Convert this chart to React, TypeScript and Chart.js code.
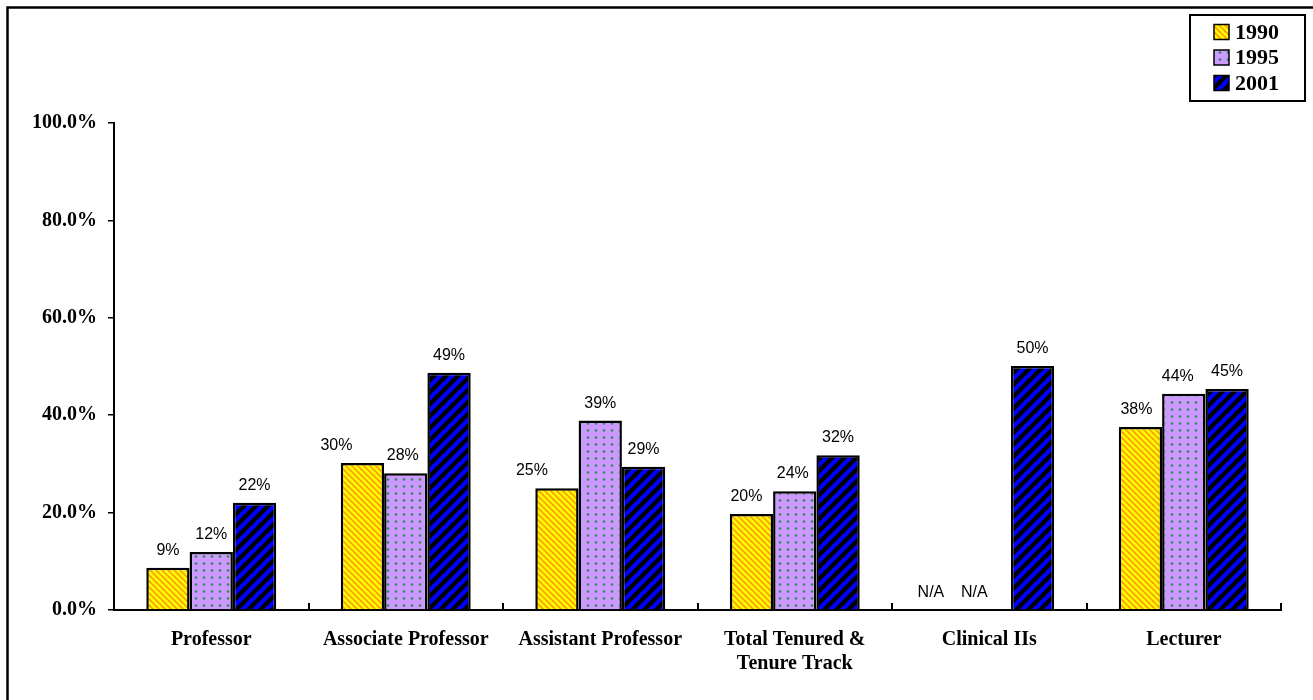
import React, { useEffect, useRef } from "react";
import { Chart, registerables } from "chart.js";

Chart.register(...registerables);

const categories: (string | string[])[] = [
  "Professor",
  "Associate Professor",
  "Assistant Professor",
  ["Total Tenured &", "Tenure Track"],
  "Clinical IIs",
  "Lecturer",
];
const seriesNames = ["1990", "1995", "2001"];
const v1990: (number | null)[] = [8.7, 30.2, 25.0, 19.7, null, 37.6];
const v1995: (number | null)[] = [11.9, 28.1, 38.9, 24.4, null, 44.4];
const v2001: (number | null)[] = [22.0, 48.7, 29.4, 31.8, 50.1, 45.4];
const yTicks = [0, 20, 40, 60, 80, 100];

// hand-placed label nudges (style, px) as in the original
const labelNudge: number[][] = [
  [0, -26, -25, -5, -15, -4],
  [0, -3, 0, -2, -15, -6],
  [0, 0, 0, 0, 0, 0],
];

const SERIF = "'Liberation Serif', 'Times New Roman', serif";
const SANS = "'Liberation Sans', Arial, sans-serif";

function stripes(size: number, base: string, color: string, lw: number, forward: boolean): CanvasPattern {
  const c = document.createElement("canvas");
  c.width = size;
  c.height = size;
  const ctx = c.getContext("2d")!;
  ctx.fillStyle = base;
  ctx.fillRect(0, 0, size, size);
  ctx.strokeStyle = color;
  ctx.lineWidth = lw;
  ctx.lineCap = "square";
  for (const off of [-size, 0, size]) {
    ctx.beginPath();
    if (forward) {
      ctx.moveTo(off, size);
      ctx.lineTo(off + size, 0);
    } else {
      ctx.moveTo(off, 0);
      ctx.lineTo(off + size, size);
    }
    ctx.stroke();
  }
  return ctx.createPattern(c, "repeat")!;
}

function dots(w: number, h: number, base: string, color: string): CanvasPattern {
  const c = document.createElement("canvas");
  c.width = w;
  c.height = h;
  const ctx = c.getContext("2d")!;
  ctx.fillStyle = base;
  ctx.fillRect(0, 0, w, h);
  ctx.fillStyle = color;
  ctx.beginPath();
  ctx.arc(w / 2, h / 2, 1.3, 0, Math.PI * 2);
  ctx.fill();
  return ctx.createPattern(c, "repeat")!;
}

export default function App() {
  const ref = useRef<HTMLCanvasElement | null>(null);

  useEffect(() => {
    if (!ref.current) return;
    const pYellow = stripes(6, "#FFFF00", "#FFA200", 1.8, false);
    const pPurple = dots(8, 7, "#CC99FF", "#2E8B57");
    const pBlue = stripes(12, "#000000", "#0000FF", 4.2, true);
    const fills = [pYellow, pPurple, pBlue];

    const overlay = {
      id: "overlay",
      afterDatasetsDraw(chart: any) {
        const ctx = chart.ctx as CanvasRenderingContext2D;
        const area = chart.chartArea;
        ctx.save();
        ctx.font = `16px ${SANS}`;
        ctx.fillStyle = "#000";
        ctx.textAlign = "center";
        ctx.textBaseline = "alphabetic";
        chart.data.datasets.forEach((ds: any, di: number) => {
          const meta = chart.getDatasetMeta(di);
          meta.data.forEach((el: any, i: number) => {
            const v = ds.data[i];
            const dx = labelNudge[di][i];
            if (v === null || v === undefined) {
              const xs = chart.scales.x;
              const step = xs.getPixelForValue(1) - xs.getPixelForValue(0);
              const bw = (step * 0.668) / 3;
              const cx = xs.getPixelForValue(i) + (di - 1) * bw + dx;
              ctx.fillText("N/A", cx, area.bottom - 13);
            } else {
              ctx.fillText(Math.round(v) + "%", el.x + dx, el.y - 13);
            }
          });
        });
        ctx.restore();
      },
      afterDraw(chart: any) {
        const ctx = chart.ctx as CanvasRenderingContext2D;
        const area = chart.chartArea;
        const xs = chart.scales.x;
        ctx.save();
        // frame
        ctx.strokeStyle = "#000";
        ctx.lineWidth = 2.5;
        ctx.beginPath();
        ctx.moveTo(7.5, 700);
        ctx.lineTo(7.5, 7.5);
        ctx.lineTo(1313, 7.5);
        ctx.stroke();
        // x tick marks (inside)
        const step = xs.getPixelForValue(1) - xs.getPixelForValue(0);
        ctx.lineWidth = 2;
        for (let i = 1; i <= categories.length; i++) {
          const x = Math.round(xs.getPixelForValue(i - 1) + step / 2);
          ctx.beginPath();
          ctx.moveTo(x, area.bottom);
          ctx.lineTo(x, area.bottom - 7);
          ctx.stroke();
        }
        // legend box
        const bx = 1190, by = 15, bw = 115, bh = 86;
        ctx.fillStyle = "#fff";
        ctx.fillRect(bx, by, bw, bh);
        ctx.lineWidth = 2;
        ctx.strokeRect(bx, by, bw, bh);
        ctx.font = `bold 22px ${SERIF}`;
        ctx.textAlign = "left";
        ctx.textBaseline = "middle";
        chart.data.datasets.forEach((ds: any, di: number) => {
          const cy = 32 + di * 25.5;
          ctx.fillStyle = ds.backgroundColor;
          ctx.fillRect(1214, cy - 7.5, 15, 15);
          ctx.lineWidth = 1.5;
          ctx.strokeStyle = "#000";
          ctx.strokeRect(1214, cy - 7.5, 15, 15);
          ctx.fillStyle = "#000";
          ctx.fillText(ds.label, 1235, cy + 1);
        });
        ctx.restore();
      },
    };

    const chart = new Chart(ref.current, {
      type: "bar",
      data: {
        labels: categories as any,
        datasets: [v1990, v1995, v2001].map((d, i) => ({
          label: seriesNames[i],
          data: d,
          backgroundColor: fills[i] as any,
          borderColor: "#000",
          borderWidth: 2.5,
          categoryPercentage: 0.668,
          barPercentage: 1,
        })),
      },
      options: {
        responsive: false,
        animation: false,
        devicePixelRatio: 1,
        layout: { padding: { top: 123, right: 32, left: 0, bottom: 0 } },
        plugins: {
          legend: { display: false },
          tooltip: { enabled: false },
          title: { display: false },
        },
        scales: {
          x: {
            grid: { display: false, drawTicks: false },
            border: { display: true, color: "#000", width: 2 },
            ticks: {
              autoSkip: false,
              maxRotation: 0,
              minRotation: 0,
              padding: 18,
              color: "#000",
              font: { family: SERIF, size: 20, weight: "bold", lineHeight: 1.2 },
            },
            afterFit: (s: any) => {
              s.height = 90;
            },
          },
          y: {
            min: 0,
            max: 100,
            afterBuildTicks: (s: any) => {
              s.ticks = yTicks.map((v) => ({ value: v }));
            },
            grid: {
              display: true,
              drawOnChartArea: false,
              drawTicks: true,
              tickLength: 6,
              color: "#000",
              lineWidth: 1.5,
            },
            border: { display: true, color: "#000", width: 2 },
            ticks: {
              padding: 11,
              color: "#000",
              font: { family: SERIF, size: 20, weight: "bold" },
              callback: (v: any) => Number(v).toFixed(1) + "%",
            },
            afterFit: (s: any) => {
              s.width = 114;
            },
          },
        },
      },
      plugins: [overlay],
    });
    return () => chart.destroy();
  }, []);

  return (
    <div style={{ position: "absolute", left: 0, top: 0, width: 1313, height: 700, background: "#fff" }}>
      <canvas ref={ref} width={1313} height={700} style={{ display: "block" }} />
    </div>
  );
}
